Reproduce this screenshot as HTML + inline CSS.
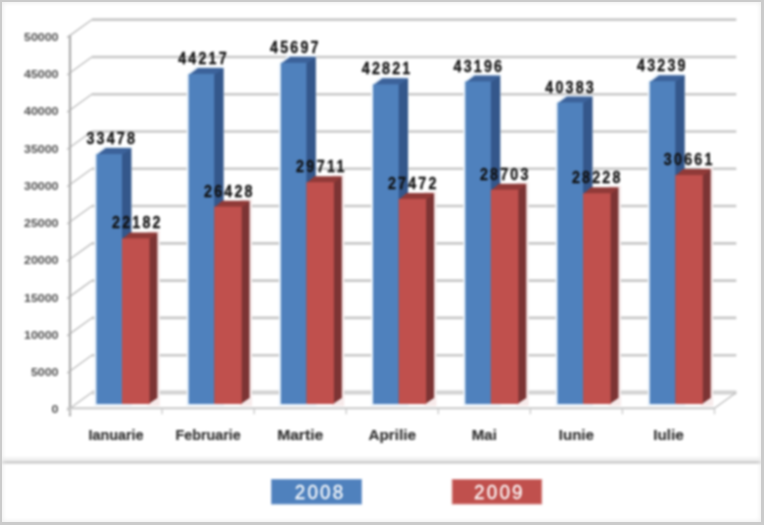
<!DOCTYPE html>
<html><head><meta charset="utf-8"><style>
html,body{margin:0;padding:0;background:#fff;}
#wrap{position:relative;width:764px;height:525px;overflow:hidden;background:#fff;}
svg{position:absolute;left:0;top:0;filter:blur(0.8px);}
text{font-family:"Liberation Sans",sans-serif;}
#frame{position:absolute;left:0;top:0;width:764px;height:525px;box-sizing:border-box;border-style:solid;border-color:#cbcbcb;border-width:2.7px 3px 3.2px 2.4px;box-shadow:inset 0 0 4px 1px #eeeeee;}
</style></head><body><div id="wrap">
<svg width="764" height="525" viewBox="0 0 764 525">
<rect x="0" y="0" width="764" height="525" fill="#fff"/>
<line x1="91.80" y1="392.47" x2="736.30" y2="392.47" stroke="#d2d2d2" stroke-width="4"/>
<line x1="67.00" y1="410.44" x2="91.80" y2="392.47" stroke="#bcbcbc" stroke-width="1.3"/>
<line x1="91.80" y1="355.19" x2="736.30" y2="355.19" stroke="#c8c8c8" stroke-width="2.6"/>
<line x1="67.00" y1="373.16" x2="91.80" y2="355.19" stroke="#bcbcbc" stroke-width="1.3"/>
<line x1="91.80" y1="317.91" x2="736.30" y2="317.91" stroke="#c8c8c8" stroke-width="2.6"/>
<line x1="67.00" y1="335.88" x2="91.80" y2="317.91" stroke="#bcbcbc" stroke-width="1.3"/>
<line x1="91.80" y1="280.63" x2="736.30" y2="280.63" stroke="#c8c8c8" stroke-width="2.6"/>
<line x1="67.00" y1="298.60" x2="91.80" y2="280.63" stroke="#bcbcbc" stroke-width="1.3"/>
<line x1="91.80" y1="243.35" x2="736.30" y2="243.35" stroke="#c8c8c8" stroke-width="2.6"/>
<line x1="67.00" y1="261.32" x2="91.80" y2="243.35" stroke="#bcbcbc" stroke-width="1.3"/>
<line x1="91.80" y1="206.07" x2="736.30" y2="206.07" stroke="#c8c8c8" stroke-width="2.6"/>
<line x1="67.00" y1="224.04" x2="91.80" y2="206.07" stroke="#bcbcbc" stroke-width="1.3"/>
<line x1="91.80" y1="168.79" x2="736.30" y2="168.79" stroke="#c8c8c8" stroke-width="2.6"/>
<line x1="67.00" y1="186.76" x2="91.80" y2="168.79" stroke="#bcbcbc" stroke-width="1.3"/>
<line x1="91.80" y1="131.51" x2="736.30" y2="131.51" stroke="#c8c8c8" stroke-width="2.6"/>
<line x1="67.00" y1="149.48" x2="91.80" y2="131.51" stroke="#bcbcbc" stroke-width="1.3"/>
<line x1="91.80" y1="94.23" x2="736.30" y2="94.23" stroke="#c8c8c8" stroke-width="2.6"/>
<line x1="67.00" y1="112.20" x2="91.80" y2="94.23" stroke="#bcbcbc" stroke-width="1.3"/>
<line x1="91.80" y1="56.95" x2="736.30" y2="56.95" stroke="#c8c8c8" stroke-width="2.6"/>
<line x1="67.00" y1="74.92" x2="91.80" y2="56.95" stroke="#bcbcbc" stroke-width="1.3"/>
<line x1="91.80" y1="19.67" x2="736.30" y2="19.67" stroke="#c8c8c8" stroke-width="2.6"/>
<line x1="67.00" y1="37.64" x2="91.80" y2="19.67" stroke="#bcbcbc" stroke-width="1.3"/>
<line x1="714.50" y1="408.27" x2="736.30" y2="392.47" stroke="#bcbcbc" stroke-width="1.3"/>
<polygon points="94.40,155.05 103.70,146.55 131.80,146.55 131.80,406.00 94.40,406.00" fill="#eaf3fb"/>
<polygon points="147.50,230.89 159.80,230.89 159.80,406.00 147.50,406.00" fill="#f7eaea"/>
<polygon points="186.62,74.88 195.92,66.38 224.02,66.38 224.02,406.00 186.62,406.00" fill="#eaf3fb"/>
<polygon points="239.72,199.19 252.02,199.19 252.02,406.00 239.72,406.00" fill="#f7eaea"/>
<polygon points="278.84,63.83 288.14,55.33 316.24,55.33 316.24,406.00 278.84,406.00" fill="#eaf3fb"/>
<polygon points="331.94,174.68 344.24,174.68 344.24,406.00 331.94,406.00" fill="#f7eaea"/>
<polygon points="371.06,85.30 380.36,76.80 408.46,76.80 408.46,406.00 371.06,406.00" fill="#eaf3fb"/>
<polygon points="424.16,191.39 436.46,191.39 436.46,406.00 424.16,406.00" fill="#f7eaea"/>
<polygon points="463.28,82.50 472.58,74.00 500.68,74.00 500.68,406.00 463.28,406.00" fill="#eaf3fb"/>
<polygon points="516.38,182.20 528.68,182.20 528.68,406.00 516.38,406.00" fill="#f7eaea"/>
<polygon points="555.50,103.50 564.80,95.00 592.90,95.00 592.90,406.00 555.50,406.00" fill="#eaf3fb"/>
<polygon points="608.60,185.75 620.90,185.75 620.90,406.00 608.60,406.00" fill="#f7eaea"/>
<polygon points="647.72,82.18 657.02,73.68 685.12,73.68 685.12,406.00 647.72,406.00" fill="#eaf3fb"/>
<polygon points="700.82,167.58 713.12,167.58 713.12,406.00 700.82,406.00" fill="#f7eaea"/>
<polygon points="121.00,154.05 131.40,148.05 131.40,398.00 121.00,404.00" fill="#34578b"/>
<polygon points="96.40,155.05 122.00,155.05 131.40,148.05 105.80,148.05" fill="#3c629a"/>
<rect x="96.40" y="154.05" width="25.60" height="249.95" fill="#4f81bd"/>
<polygon points="148.50,238.39 157.40,232.39 157.40,398.00 148.50,404.00" fill="#7c3434"/>
<polygon points="122.00,239.39 149.50,239.39 157.40,232.39 129.90,232.39" fill="#903a38"/>
<rect x="122.00" y="238.39" width="27.50" height="165.61" fill="#c0504d"/>
<polygon points="213.22,73.88 223.62,67.88 223.62,398.00 213.22,404.00" fill="#34578b"/>
<polygon points="188.62,74.88 214.22,74.88 223.62,67.88 198.02,67.88" fill="#3c629a"/>
<rect x="188.62" y="73.88" width="25.60" height="330.12" fill="#4f81bd"/>
<polygon points="240.72,206.69 249.62,200.69 249.62,398.00 240.72,404.00" fill="#7c3434"/>
<polygon points="214.22,207.69 241.72,207.69 249.62,200.69 222.12,200.69" fill="#903a38"/>
<rect x="214.22" y="206.69" width="27.50" height="197.31" fill="#c0504d"/>
<polygon points="305.44,62.83 315.84,56.83 315.84,398.00 305.44,404.00" fill="#34578b"/>
<polygon points="280.84,63.83 306.44,63.83 315.84,56.83 290.24,56.83" fill="#3c629a"/>
<rect x="280.84" y="62.83" width="25.60" height="341.17" fill="#4f81bd"/>
<polygon points="332.94,182.18 341.84,176.18 341.84,398.00 332.94,404.00" fill="#7c3434"/>
<polygon points="306.44,183.18 333.94,183.18 341.84,176.18 314.34,176.18" fill="#903a38"/>
<rect x="306.44" y="182.18" width="27.50" height="221.82" fill="#c0504d"/>
<polygon points="397.66,84.30 408.06,78.30 408.06,398.00 397.66,404.00" fill="#34578b"/>
<polygon points="373.06,85.30 398.66,85.30 408.06,78.30 382.46,78.30" fill="#3c629a"/>
<rect x="373.06" y="84.30" width="25.60" height="319.70" fill="#4f81bd"/>
<polygon points="425.16,198.89 434.06,192.89 434.06,398.00 425.16,404.00" fill="#7c3434"/>
<polygon points="398.66,199.89 426.16,199.89 434.06,192.89 406.56,192.89" fill="#903a38"/>
<rect x="398.66" y="198.89" width="27.50" height="205.11" fill="#c0504d"/>
<polygon points="489.88,81.50 500.28,75.50 500.28,398.00 489.88,404.00" fill="#34578b"/>
<polygon points="465.28,82.50 490.88,82.50 500.28,75.50 474.68,75.50" fill="#3c629a"/>
<rect x="465.28" y="81.50" width="25.60" height="322.50" fill="#4f81bd"/>
<polygon points="517.38,189.70 526.28,183.70 526.28,398.00 517.38,404.00" fill="#7c3434"/>
<polygon points="490.88,190.70 518.38,190.70 526.28,183.70 498.78,183.70" fill="#903a38"/>
<rect x="490.88" y="189.70" width="27.50" height="214.30" fill="#c0504d"/>
<polygon points="582.10,102.50 592.50,96.50 592.50,398.00 582.10,404.00" fill="#34578b"/>
<polygon points="557.50,103.50 583.10,103.50 592.50,96.50 566.90,96.50" fill="#3c629a"/>
<rect x="557.50" y="102.50" width="25.60" height="301.50" fill="#4f81bd"/>
<polygon points="609.60,193.25 618.50,187.25 618.50,398.00 609.60,404.00" fill="#7c3434"/>
<polygon points="583.10,194.25 610.60,194.25 618.50,187.25 591.00,187.25" fill="#903a38"/>
<rect x="583.10" y="193.25" width="27.50" height="210.75" fill="#c0504d"/>
<polygon points="674.32,81.18 684.72,75.18 684.72,398.00 674.32,404.00" fill="#34578b"/>
<polygon points="649.72,82.18 675.32,82.18 684.72,75.18 659.12,75.18" fill="#3c629a"/>
<rect x="649.72" y="81.18" width="25.60" height="322.82" fill="#4f81bd"/>
<polygon points="701.82,175.08 710.72,169.08 710.72,398.00 701.82,404.00" fill="#7c3434"/>
<polygon points="675.32,176.08 702.82,176.08 710.72,169.08 683.22,169.08" fill="#903a38"/>
<rect x="675.32" y="175.08" width="27.50" height="228.92" fill="#c0504d"/>
<line x1="70.00" y1="35.47" x2="70.00" y2="416.27" stroke="#ababab" stroke-width="2.2"/>
<line x1="67.00" y1="408.27" x2="714.50" y2="408.27" stroke="#c8c8c8" stroke-width="2.2"/>
<line x1="70.00" y1="408.27" x2="70.00" y2="414.27" stroke="#c8c8c8" stroke-width="1.3"/>
<line x1="162.07" y1="408.27" x2="162.07" y2="414.27" stroke="#c8c8c8" stroke-width="1.3"/>
<line x1="254.14" y1="408.27" x2="254.14" y2="414.27" stroke="#c8c8c8" stroke-width="1.3"/>
<line x1="346.21" y1="408.27" x2="346.21" y2="414.27" stroke="#c8c8c8" stroke-width="1.3"/>
<line x1="438.29" y1="408.27" x2="438.29" y2="414.27" stroke="#c8c8c8" stroke-width="1.3"/>
<line x1="530.36" y1="408.27" x2="530.36" y2="414.27" stroke="#c8c8c8" stroke-width="1.3"/>
<line x1="622.43" y1="408.27" x2="622.43" y2="414.27" stroke="#c8c8c8" stroke-width="1.3"/>
<line x1="714.50" y1="408.27" x2="714.50" y2="414.27" stroke="#c8c8c8" stroke-width="1.3"/>
<text x="58.5" y="413.47" text-anchor="end" font-size="11" font-weight="bold" fill="#505050" textLength="6.9" lengthAdjust="spacingAndGlyphs">0</text>
<text x="58.5" y="376.19" text-anchor="end" font-size="11" font-weight="bold" fill="#505050" textLength="27.6" lengthAdjust="spacingAndGlyphs">5000</text>
<text x="58.5" y="338.91" text-anchor="end" font-size="11" font-weight="bold" fill="#505050" textLength="34.5" lengthAdjust="spacingAndGlyphs">10000</text>
<text x="58.5" y="301.63" text-anchor="end" font-size="11" font-weight="bold" fill="#505050" textLength="34.5" lengthAdjust="spacingAndGlyphs">15000</text>
<text x="58.5" y="264.35" text-anchor="end" font-size="11" font-weight="bold" fill="#505050" textLength="34.5" lengthAdjust="spacingAndGlyphs">20000</text>
<text x="58.5" y="227.07" text-anchor="end" font-size="11" font-weight="bold" fill="#505050" textLength="34.5" lengthAdjust="spacingAndGlyphs">25000</text>
<text x="58.5" y="189.79" text-anchor="end" font-size="11" font-weight="bold" fill="#505050" textLength="34.5" lengthAdjust="spacingAndGlyphs">30000</text>
<text x="58.5" y="152.51" text-anchor="end" font-size="11" font-weight="bold" fill="#505050" textLength="34.5" lengthAdjust="spacingAndGlyphs">35000</text>
<text x="58.5" y="115.23" text-anchor="end" font-size="11" font-weight="bold" fill="#505050" textLength="34.5" lengthAdjust="spacingAndGlyphs">40000</text>
<text x="58.5" y="77.95" text-anchor="end" font-size="11" font-weight="bold" fill="#505050" textLength="34.5" lengthAdjust="spacingAndGlyphs">45000</text>
<text x="58.5" y="40.67" text-anchor="end" font-size="11" font-weight="bold" fill="#505050" textLength="34.5" lengthAdjust="spacingAndGlyphs">50000</text>
<text transform="translate(110.70,144.05) scale(0.84,1)" x="0" y="0" text-anchor="middle" font-size="17" font-weight="bold" fill="#111" stroke="#111" stroke-width="0.35" textLength="57.74" lengthAdjust="spacing">33478</text>
<text transform="translate(136.30,228.39) scale(0.84,1)" x="0" y="0" text-anchor="middle" font-size="17" font-weight="bold" fill="#111" stroke="#111" stroke-width="0.35" textLength="57.74" lengthAdjust="spacing">22182</text>
<text transform="translate(202.47,63.88) scale(0.84,1)" x="0" y="0" text-anchor="middle" font-size="17" font-weight="bold" fill="#111" stroke="#111" stroke-width="0.35" textLength="57.74" lengthAdjust="spacing">44217</text>
<text transform="translate(228.27,196.69) scale(0.84,1)" x="0" y="0" text-anchor="middle" font-size="17" font-weight="bold" fill="#111" stroke="#111" stroke-width="0.35" textLength="57.74" lengthAdjust="spacing">26428</text>
<text transform="translate(294.24,52.83) scale(0.84,1)" x="0" y="0" text-anchor="middle" font-size="17" font-weight="bold" fill="#111" stroke="#111" stroke-width="0.35" textLength="57.74" lengthAdjust="spacing">45697</text>
<text transform="translate(320.24,172.18) scale(0.84,1)" x="0" y="0" text-anchor="middle" font-size="17" font-weight="bold" fill="#111" stroke="#111" stroke-width="0.35" textLength="57.74" lengthAdjust="spacing">29711</text>
<text transform="translate(386.01,74.30) scale(0.84,1)" x="0" y="0" text-anchor="middle" font-size="17" font-weight="bold" fill="#111" stroke="#111" stroke-width="0.35" textLength="57.74" lengthAdjust="spacing">42821</text>
<text transform="translate(412.21,188.89) scale(0.84,1)" x="0" y="0" text-anchor="middle" font-size="17" font-weight="bold" fill="#111" stroke="#111" stroke-width="0.35" textLength="57.74" lengthAdjust="spacing">27472</text>
<text transform="translate(477.78,71.50) scale(0.84,1)" x="0" y="0" text-anchor="middle" font-size="17" font-weight="bold" fill="#111" stroke="#111" stroke-width="0.35" textLength="57.74" lengthAdjust="spacing">43196</text>
<text transform="translate(504.18,179.70) scale(0.84,1)" x="0" y="0" text-anchor="middle" font-size="17" font-weight="bold" fill="#111" stroke="#111" stroke-width="0.35" textLength="57.74" lengthAdjust="spacing">28703</text>
<text transform="translate(569.55,92.50) scale(0.84,1)" x="0" y="0" text-anchor="middle" font-size="17" font-weight="bold" fill="#111" stroke="#111" stroke-width="0.35" textLength="57.74" lengthAdjust="spacing">40383</text>
<text transform="translate(596.15,183.25) scale(0.84,1)" x="0" y="0" text-anchor="middle" font-size="17" font-weight="bold" fill="#111" stroke="#111" stroke-width="0.35" textLength="57.74" lengthAdjust="spacing">28228</text>
<text transform="translate(661.32,71.18) scale(0.84,1)" x="0" y="0" text-anchor="middle" font-size="17" font-weight="bold" fill="#111" stroke="#111" stroke-width="0.35" textLength="57.74" lengthAdjust="spacing">43239</text>
<text transform="translate(688.12,165.08) scale(0.84,1)" x="0" y="0" text-anchor="middle" font-size="17" font-weight="bold" fill="#111" stroke="#111" stroke-width="0.35" textLength="57.74" lengthAdjust="spacing">30661</text>
<text x="116.04" y="440.3" text-anchor="middle" font-size="14.5" font-weight="bold" fill="#333" stroke="#333" stroke-width="0.2" textLength="55" lengthAdjust="spacingAndGlyphs">Ianuarie</text>
<text x="208.11" y="440.3" text-anchor="middle" font-size="14.5" font-weight="bold" fill="#333" stroke="#333" stroke-width="0.2" textLength="65" lengthAdjust="spacingAndGlyphs">Februarie</text>
<text x="300.18" y="440.3" text-anchor="middle" font-size="14.5" font-weight="bold" fill="#333" stroke="#333" stroke-width="0.2" textLength="46" lengthAdjust="spacingAndGlyphs">Martie</text>
<text x="392.25" y="440.3" text-anchor="middle" font-size="14.5" font-weight="bold" fill="#333" stroke="#333" stroke-width="0.2" textLength="47.5" lengthAdjust="spacingAndGlyphs">Aprilie</text>
<text x="484.32" y="440.3" text-anchor="middle" font-size="14.5" font-weight="bold" fill="#333" stroke="#333" stroke-width="0.2" textLength="25" lengthAdjust="spacingAndGlyphs">Mai</text>
<text x="576.39" y="440.3" text-anchor="middle" font-size="14.5" font-weight="bold" fill="#333" stroke="#333" stroke-width="0.2" textLength="35" lengthAdjust="spacingAndGlyphs">Iunie</text>
<text x="668.46" y="440.3" text-anchor="middle" font-size="14.5" font-weight="bold" fill="#333" stroke="#333" stroke-width="0.2" textLength="30.5" lengthAdjust="spacingAndGlyphs">Iulie</text>
<rect x="271.5" y="479.5" width="90" height="24.5" fill="#4f81bd" stroke="#7a9fd0" stroke-width="1"/>
<text transform="translate(319,499) scale(0.92,1)" x="0" y="0" text-anchor="middle" font-size="20.5" fill="#fff" stroke="#fff" stroke-width="0.25" textLength="52.7" lengthAdjust="spacing">2008</text>
<rect x="452.2" y="479.5" width="89.5" height="24.5" fill="#c0504d" stroke="#d88a88" stroke-width="1"/>
<text transform="translate(498.3,499) scale(0.92,1)" x="0" y="0" text-anchor="middle" font-size="20.5" fill="#fff" stroke="#fff" stroke-width="0.25" textLength="52.7" lengthAdjust="spacing">2009</text>
<rect x="0" y="457" width="764" height="3.7" fill="#f3f3f3"/>
<line x1="0" y1="462.3" x2="764" y2="462.3" stroke="#cfcfcf" stroke-width="3"/>
</svg><div id="frame"></div></div></body></html>
